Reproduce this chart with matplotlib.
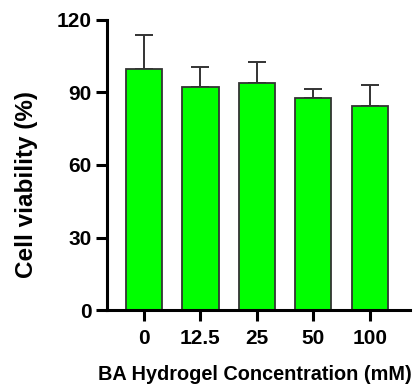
import matplotlib
matplotlib.use("Agg")
import matplotlib.pyplot as plt

concentrations = ["0", "12.5", "25", "50", "100"]
viability = [99.8, 92.1, 94.1, 87.6, 84.4]
sd = [14.0, 8.3, 8.4, 3.7, 8.7]

plt.rcParams['font.family'] = ['Liberation Sans', 'DejaVu Sans']
plt.rcParams['font.weight'] = 'bold'

fig = plt.figure(figsize=(4.17, 3.9), dpi=100)
ax = fig.add_axes([0.256, 0.205, 0.727, 0.744])

x = range(len(concentrations))
ax.bar(x, viability, width=0.64, color='#00ff00', edgecolor='#333333', linewidth=1.3, zorder=2)
ax.errorbar(x, viability, yerr=[[0] * len(sd), sd], fmt='none', ecolor='#333333',
            elinewidth=1.4, capsize=6.8, capthick=1.4, zorder=1)

ax.set_ylim(0, 120)
ax.set_xlim(-0.66, 4.71)
ax.set_yticks([0, 30, 60, 90, 120])
ax.set_xticks(list(x))
ax.set_xticklabels(concentrations)

for side in ['top', 'right']:
    ax.spines[side].set_visible(False)
for side in ['left', 'bottom']:
    ax.spines[side].set_linewidth(2.2)
ax.tick_params(axis='both', width=2.2, length=8, labelsize=15, pad=3)
ax.tick_params(axis='x', pad=6)

ax.set_ylabel("Cell viability (%)", fontsize=17.5, fontweight='bold')
ax.yaxis.set_label_coords(-0.228, 0.431)
ax.set_xlabel("BA Hydrogel Concentration (mM)", fontsize=14.3, fontweight='bold')
ax.xaxis.set_label_coords(0.49, -0.19)

fig.savefig("out.png", dpi=100)
